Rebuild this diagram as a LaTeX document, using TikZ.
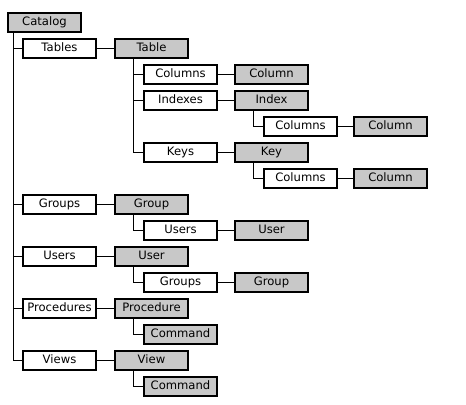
\documentclass[tikz,border=0pt]{standalone}
\usepackage{fontspec}
\setmainfont{DejaVu Sans}
\definecolor{objgray}{RGB}{200,200,200}

\begin{document}
\begin{tikzpicture}[x=0.75pt, y=-0.75pt]
\tikzset{collbox/.style={draw, line width=1.5pt, fill=white, inner sep=0pt,
  minimum width=54.75pt, minimum height=14.25pt, text height=6.6pt, text depth=1.9pt,
  font=\fontsize{8.7}{10}\selectfont}}
\tikzset{objbox/.style={collbox, fill=objgray}}
\tikzset{lien/.style={line width=0.75pt}}
\useasboundingbox (0,0) rectangle (466,404);
% racine
\node[objbox] (cat) at (44.5,22.5) {Catalog};
% tables
\node[collbox] (tabs) at (59.5,48.5) {Tables};
\node[objbox] (tab) at (151.5,48.5) {Table};
\node[collbox] (tcols) at (180.5,74.5) {Columns};
\node[objbox] (tcol) at (271.5,74.5) {Column};
\node[collbox] (idxs) at (180.5,100.5) {Indexes};
\node[objbox] (idx) at (271.5,100.5) {Index};
\node[collbox] (icols) at (300.5,126.5) {Columns};
\node[objbox] (icol) at (390.5,126.5) {Column};
\node[collbox] (keys) at (180.5,152.5) {Keys};
\node[objbox] (key) at (271.5,152.5) {Key};
\node[collbox] (kcols) at (300.5,178.5) {Columns};
\node[objbox] (kcol) at (390.5,178.5) {Column};
% groupes, utilisateurs
\node[collbox] (grps) at (59.5,204.5) {Groups};
\node[objbox] (grp) at (151.5,204.5) {Group};
\node[collbox] (gusers) at (180.5,230.5) {Users};
\node[objbox] (guser) at (271.5,230.5) {User};
\node[collbox] (users) at (59.5,256.5) {Users};
\node[objbox] (user) at (151.5,256.5) {User};
\node[collbox] (ugrps) at (180.5,282.5) {Groups};
\node[objbox] (ugrp) at (271.5,282.5) {Group};
% procedures, vues
\node[collbox] (procs) at (59.5,308.5) {Procedures};
\node[objbox] (proc) at (151.5,308.5) {Procedure};
\node[objbox] (pcmd) at (180.5,334.5) {Command};
\node[collbox] (views) at (59.5,360.5) {Views};
\node[objbox] (view) at (151.5,360.5) {View};
\node[objbox] (vcmd) at (180.5,386.5) {Command};
% liens
\draw[lien] ([xshift=4.5pt]cat.south west) |- (tabs.west);
\draw[lien] ([xshift=4.5pt]cat.south west) |- (grps.west);
\draw[lien] ([xshift=4.5pt]cat.south west) |- (users.west);
\draw[lien] ([xshift=4.5pt]cat.south west) |- (procs.west);
\draw[lien] ([xshift=4.5pt]cat.south west) |- (views.west);
\draw[lien] (tabs) -- (tab);
\draw[lien] ([xshift=14.25pt]tab.south west) |- (tcols.west);
\draw[lien] ([xshift=14.25pt]tab.south west) |- (idxs.west);
\draw[lien] ([xshift=14.25pt]tab.south west) |- (keys.west);
\draw[lien] (tcols) -- (tcol);
\draw[lien] (idxs) -- (idx);
\draw[lien] ([xshift=14.25pt]idx.south west) |- (icols.west);
\draw[lien] (icols) -- (icol);
\draw[lien] (keys) -- (key);
\draw[lien] ([xshift=14.25pt]key.south west) |- (kcols.west);
\draw[lien] (kcols) -- (kcol);
\draw[lien] (grps) -- (grp);
\draw[lien] ([xshift=14.25pt]grp.south west) |- (gusers.west);
\draw[lien] (gusers) -- (guser);
\draw[lien] (users) -- (user);
\draw[lien] ([xshift=14.25pt]user.south west) |- (ugrps.west);
\draw[lien] (ugrps) -- (ugrp);
\draw[lien] (procs) -- (proc);
\draw[lien] ([xshift=14.25pt]proc.south west) |- (pcmd.west);
\draw[lien] (views) -- (view);
\draw[lien] ([xshift=14.25pt]view.south west) |- (vcmd.west);
\end{tikzpicture}
\end{document}
